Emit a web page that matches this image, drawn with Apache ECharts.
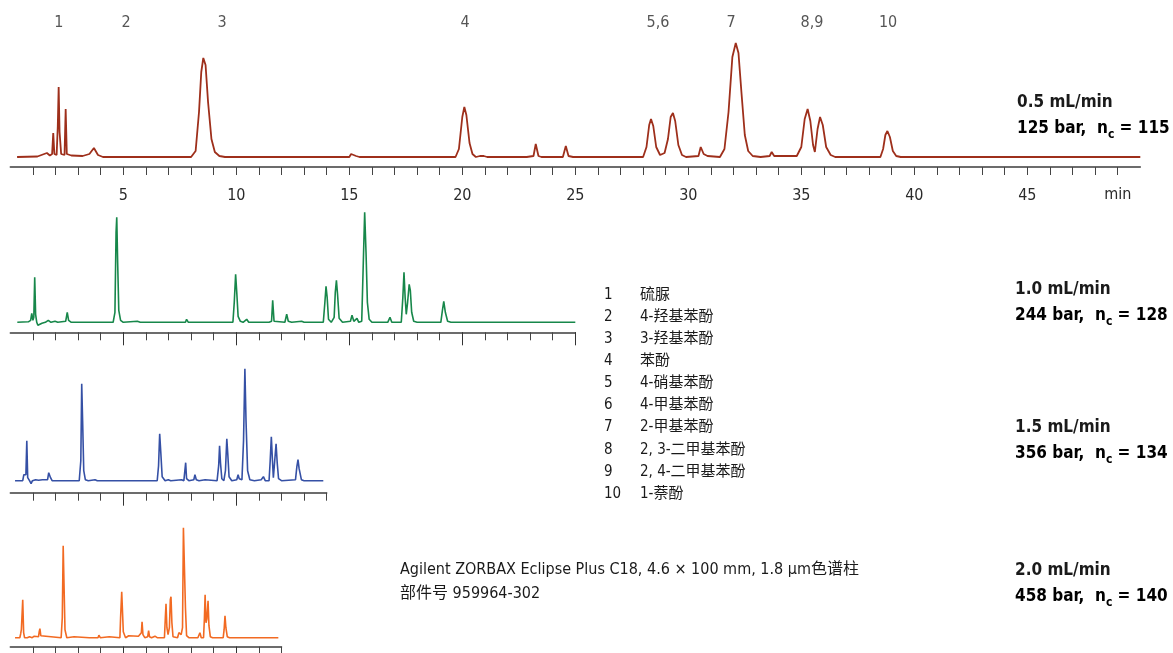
<!DOCTYPE html>
<html>
<head>
<meta charset="utf-8">
<title>色谱图</title>
<script src="https://cdn.jsdelivr.net/npm/echarts@6/dist/echarts.min.js"></script>
<style>
html, body { margin: 0; padding: 0; background: #fff; }
#main { width: 1173px; height: 653px; }
</style>
</head>
<body>
<div id="main"></div>
<script>
// 流速 / 压力 / 峰容量
var flowRates = ['0.5 mL/min', '1.0 mL/min', '1.5 mL/min', '2.0 mL/min'];
var pressures = ['125 bar', '244 bar', '356 bar', '458 bar'];
var peakCapacity = [115, 128, 134, 140];
var runMinutes = [50, 25, 14, 12];

// 顶部峰号
var peakLabels = ['1', '2', '3', '4', '5,6', '7', '8,9', '10'];
var peakLabelTimes = [2.15, 5.12, 9.37, 20.12, 28.66, 31.89, 35.47, 38.84];

var compounds = ['硫脲', '4-羟基苯酚', '3-羟基苯酚', '苯酚', '4-硝基苯酚', '4-甲基苯酚',
  '2-甲基苯酚', '2, 3-二甲基苯酚', '2, 4-二甲基苯酚', '1-萘酚'];

var topTickLabels = [5, 10, 15, 20, 25, 30, 35, 40, 45];

// 色谱图 [时间(min), 响应]
var trace05 = [[0.3,0],[1.2,0.5],[1.5,3],[1.62,4],[1.75,1.5],[1.85,3],[1.9,24],[1.95,3],[2.05,2],[2.1,30],[2.14,70],[2.18,25],[2.25,3],[2.4,2],[2.45,48],[2.5,3],[2.7,1.5],[3.2,1],[3.5,3],[3.7,9],[3.88,2],[4.1,0],[8.0,0],[8.2,6],[8.35,45],[8.45,85],[8.54,99],[8.64,92],[8.75,55],[8.9,18],[9.05,5],[9.25,1],[9.5,0],[15.0,0],[15.08,3],[15.16,4],[15.3,1],[15.45,0],[19.7,0],[19.85,8],[20.0,40],[20.09,50],[20.18,42],[20.32,14],[20.45,3],[20.6,0],[20.78,1],[20.85,3],[20.95,1],[21.1,0],[22.7,0],[22.77,2],[22.85,0],[23.15,1],[23.25,13],[23.37,1],[23.5,0],[24.45,0],[24.58,11],[24.7,1],[24.9,0],[28.0,0],[28.15,10],[28.27,32],[28.35,38],[28.45,31],[28.58,10],[28.75,2],[28.95,4],[29.1,18],[29.22,40],[29.32,44],[29.42,36],[29.56,12],[29.72,2],[29.9,0],[30.45,1],[30.55,10],[30.68,3],[30.85,1],[31.4,0],[31.6,8],[31.78,45],[31.95,100],[32.1,114],[32.22,104],[32.35,65],[32.5,22],[32.65,6],[32.85,1],[33.2,0],[33.6,1],[33.69,5],[33.8,1],[34.8,1],[35.0,10],[35.15,38],[35.28,48],[35.4,36],[35.52,12],[35.6,5],[35.72,28],[35.83,40],[35.95,32],[36.1,10],[36.3,2],[36.5,0],[38.5,0],[38.62,8],[38.72,22],[38.81,26],[38.92,20],[39.05,6],[39.2,1],[39.4,0],[50,0]];

var trace10 = [[0.31,0],[0.8,0.5],[0.9,2],[0.95,9],[1.0,2],[1.04,5],[1.08,45],[1.12,8],[1.17,0],[1.22,-3],[1.3,-2],[1.4,-1],[1.55,0],[1.68,2],[1.8,0],[1.98,1],[2.1,0],[2.45,1],[2.52,10],[2.58,2],[2.7,0],[4.55,0],[4.63,10],[4.68,90],[4.71,105],[4.75,60],[4.8,12],[4.88,2],[5.0,0],[5.62,1],[5.75,0],[7.0,0],[7.07,2],[7.15,0],[7.75,0],[7.8,3],[7.88,0],[9.85,0],[9.91,20],[9.97,48],[10.02,30],[10.08,6],[10.18,1],[10.3,0],[10.46,3],[10.55,0],[11.3,0],[11.35,1],[11.45,0],[11.56,1],[11.61,22],[11.67,1],[12.15,0],[12.23,8],[12.3,1],[12.45,0],[12.89,1],[13.0,0],[13.85,0],[13.92,20],[13.97,36],[14.02,25],[14.08,3],[14.2,0],[14.33,5],[14.38,30],[14.43,42],[14.48,28],[14.55,4],[14.7,0],[15.05,1],[15.12,7],[15.2,1],[15.27,1],[15.34,4],[15.42,0],[15.55,1],[15.62,60],[15.68,110],[15.74,70],[15.8,20],[15.88,3],[16.0,0],[16.7,0],[16.8,5],[16.88,0],[17.3,0],[17.37,25],[17.42,50],[17.47,25],[17.52,8],[17.58,20],[17.65,38],[17.7,32],[17.76,10],[17.85,1],[18.0,0],[19.05,0],[19.12,12],[19.18,21],[19.25,10],[19.35,1],[19.5,0],[25,0]];

var trace15 = [[0.21,0],[0.55,0],[0.6,6],[0.65,8],[0.69,6],[0.73,40],[0.77,3],[0.85,0],[0.92,-3],[0.98,0],[1.12,1],[1.18,2],[1.25,0.5],[1.42,1],[1.5,0],[1.65,1],[1.7,8],[1.73,10],[1.78,3],[1.85,0],[3.05,0],[3.12,20],[3.16,97],[3.2,60],[3.25,10],[3.32,1],[3.45,0],[3.75,1],[3.85,0],[4.7,0],[4.75,2],[4.82,0],[5.15,0],[5.22,2],[5.3,0],[6.5,0],[6.56,15],[6.61,47],[6.66,28],[6.72,4],[6.85,0],[6.99,1],[7.1,0],[7.58,1],[7.68,0],[7.72,2],[7.76,18],[7.8,2],[7.9,0],[8.12,1],[8.17,6],[8.23,1],[8.35,0],[8.62,1],[8.7,0],[9.15,0],[9.22,15],[9.26,35],[9.3,18],[9.36,2],[9.45,0],[9.52,10],[9.58,42],[9.62,28],[9.68,4],[9.8,0],[10.02,1],[10.08,6],[10.13,2],[10.18,3],[10.25,1],[10.32,40],[10.38,112],[10.43,60],[10.5,10],[10.6,1],[10.8,0],[11.1,1],[11.2,4],[11.28,0],[11.45,0],[11.5,20],[11.55,44],[11.6,20],[11.64,3],[11.7,20],[11.76,37],[11.81,18],[11.87,2],[12.0,0],[12.62,1],[12.68,14],[12.73,21],[12.78,12],[12.88,1],[13.0,0],[13.85,0]];

var trace20 = [[0.21,0],[0.42,0],[0.46,4],[0.49,8],[0.52,6],[0.55,38],[0.59,5],[0.63,0],[0.69,-2],[0.75,0],[0.85,1],[0.9,2],[0.97,0],[1.06,1.5],[1.12,0],[1.25,1],[1.28,6],[1.31,9],[1.35,2],[1.42,0],[2.25,0],[2.3,20],[2.34,92],[2.38,50],[2.42,8],[2.5,0],[2.82,1],[2.9,0],[3.5,0],[3.55,2],[3.62,0],[3.88,0],[3.92,2.5],[3.98,0],[4.38,1],[4.45,0],[4.85,0],[4.88,20],[4.93,46],[4.97,44],[5.0,6],[5.05,6],[5.1,0],[5.24,2],[5.32,0],[5.67,1.5],[5.75,0],[5.8,5],[5.83,16],[5.87,3],[5.95,0],[6.08,1],[6.12,7],[6.16,1],[6.25,0],[6.4,1.5],[6.5,0],[6.82,0],[6.86,20],[6.89,34],[6.93,10],[6.98,3],[7.04,10],[7.08,38],[7.11,41],[7.15,15],[7.2,1],[7.4,0],[7.46,5],[7.51,7],[7.56,3],[7.62,10],[7.66,110],[7.71,111],[7.75,30],[7.8,2],[7.9,0],[8.3,0],[8.39,5],[8.45,0],[8.55,0],[8.59,20],[8.62,43],[8.66,15],[8.7,19],[8.75,37],[8.79,12],[8.85,1],[8.95,0],[9.42,0],[9.46,8],[9.5,22],[9.54,10],[9.6,1],[9.7,0],[11.86,0]];

var traces = [trace05, trace10, trace15, trace20];

// ---- layout ----
var FONT = "'DejaVu Sans Condensed', 'Noto Sans CJK SC', sans-serif";
var PX_PER_MIN = 22.6;
var lineColors = ['#9e2f1b', '#17874a', '#3550a5', '#f26a22'];
var panels = [
  { top: 10, height: 157, ymin: -10, ymax: 147, text: [1017, 103] },
  { top: 202.3, height: 130, ymin: -10, ymax: 120, text: [1015, 290] },
  { top: 362.7, height: 130, ymin: -12, ymax: 118, text: [1015, 428] },
  { top: 516.7, height: 130, ymin: -9, ymax: 121, text: [1015, 571] }
];

function range(a, b, step) {
  var out = [];
  for (var v = a; v <= b; v += step) out.push(v);
  return out;
}

var grids = [], xAxes = [], yAxes = [], series = [];
panels.forEach(function (p, i) {
  var maxT = runMinutes[i];
  grids.push({ left: 10.3, top: p.top, width: maxT * PX_PER_MIN, height: p.height });
  yAxes.push({ gridIndex: i, type: 'value', min: p.ymin, max: p.ymax, show: false });
  xAxes.push({
    gridIndex: i, type: 'value', position: 'bottom', min: 0, max: maxT,
    axisLine: { show: true, onZero: false, lineStyle: { color: '#3c3c3c', width: 1.5 } },
    axisTick: {
      show: true, inside: false, length: 8,
      customValues: range(1, i === 0 ? 49 : maxT, 1),
      lineStyle: { color: '#444', width: 1 }
    },
    axisLabel: {
      show: i === 0, customValues: topTickLabels, margin: 21,
      color: '#2a2a2a', fontSize: 16, fontFamily: FONT
    },
    splitLine: { show: false }
  });
  series.push({
    type: 'line', xAxisIndex: i, yAxisIndex: i, data: traces[i],
    showSymbol: false, symbol: 'none', animation: false,
    lineStyle: { color: lineColors[i], width: i === 0 ? 1.8 : 1.6 }
  });
});

// 下方三幅图的 5 min 长刻度
for (var k = 1; k < 4; k++) {
  xAxes.push({
    gridIndex: k, type: 'value', position: 'bottom', min: 0, max: runMinutes[k],
    axisLine: { show: false, onZero: false },
    axisTick: { show: true, inside: false, length: 13, customValues: range(5, runMinutes[k], 5), lineStyle: { color: '#333', width: 1 } },
    axisLabel: { show: false },
    splitLine: { show: false }
  });
}

series.push({
  type: 'scatter', xAxisIndex: 0, yAxisIndex: 0, symbolSize: 0, animation: false,
  data: peakLabelTimes.map(function (t, i) { return { name: peakLabels[i], value: [t, 134] }; }),
  label: {
    show: true, position: 'inside', formatter: '{b}',
    color: '#2a2a2a', fontSize: 16, fontFamily: FONT
  }
});

var graphics = [];
graphics.push({
  type: 'text', x: 10.3 + 49 * PX_PER_MIN, y: 195,
  style: { text: 'min', fill: '#2a2a2a', font: '16px ' + FONT, textAlign: 'center', textVerticalAlign: 'middle' }
});

compounds.forEach(function (c, i) {
  var y = 295 + i * 22.1;
  graphics.push({
    type: 'text', x: 604, y: y,
    style: { text: String(i + 1), fill: '#1a1a1a', font: '15px ' + FONT, textAlign: 'left', textVerticalAlign: 'middle' }
  });
  graphics.push({
    type: 'text', x: 640, y: y,
    style: { text: c, fill: '#1a1a1a', font: '15px ' + FONT, textAlign: 'left', textVerticalAlign: 'middle' }
  });
});

panels.forEach(function (p, i) {
  graphics.push({
    type: 'text', x: p.text[0], y: p.text[1],
    style: { text: flowRates[i], fill: '#1a1a1a', font: 'bold 17px ' + FONT, textAlign: 'left', textVerticalAlign: 'middle' }
  });
  graphics.push({
    type: 'text', x: p.text[0], y: p.text[1] + 26,
    style: {
      text: '{b|' + pressures[i] + ',  n}{s|c}{b| = ' + peakCapacity[i] + '}',
      textAlign: 'left', textVerticalAlign: 'middle',
      rich: {
        b: { fontFamily: FONT, fontWeight: 'bold', fontSize: 17, color: '#1a1a1a', lineHeight: 24 },
        s: { fontFamily: FONT, fontWeight: 'bold', fontSize: 12, color: '#1a1a1a', lineHeight: 12, verticalAlign: 'bottom' }
      }
    }
  });
});

graphics.push({
  type: 'text', x: 400, y: 570,
  style: { text: 'Agilent ZORBAX Eclipse Plus C18, 4.6 × 100 mm, 1.8 µm色谱柱', fill: '#1a1a1a', font: '16px ' + FONT, textAlign: 'left', textVerticalAlign: 'middle' }
});
graphics.push({
  type: 'text', x: 400, y: 594,
  style: { text: '部件号 959964-302', fill: '#1a1a1a', font: '16px ' + FONT, textAlign: 'left', textVerticalAlign: 'middle' }
});

var myChart = echarts.init(document.getElementById('main'));
myChart.setOption({
  backgroundColor: '#fff',
  animation: false,
  grid: grids,
  xAxis: xAxes,
  yAxis: yAxes,
  series: series,
  graphic: graphics
});
window.onresize = function () { myChart.resize(); };
</script>
</body>
</html>
